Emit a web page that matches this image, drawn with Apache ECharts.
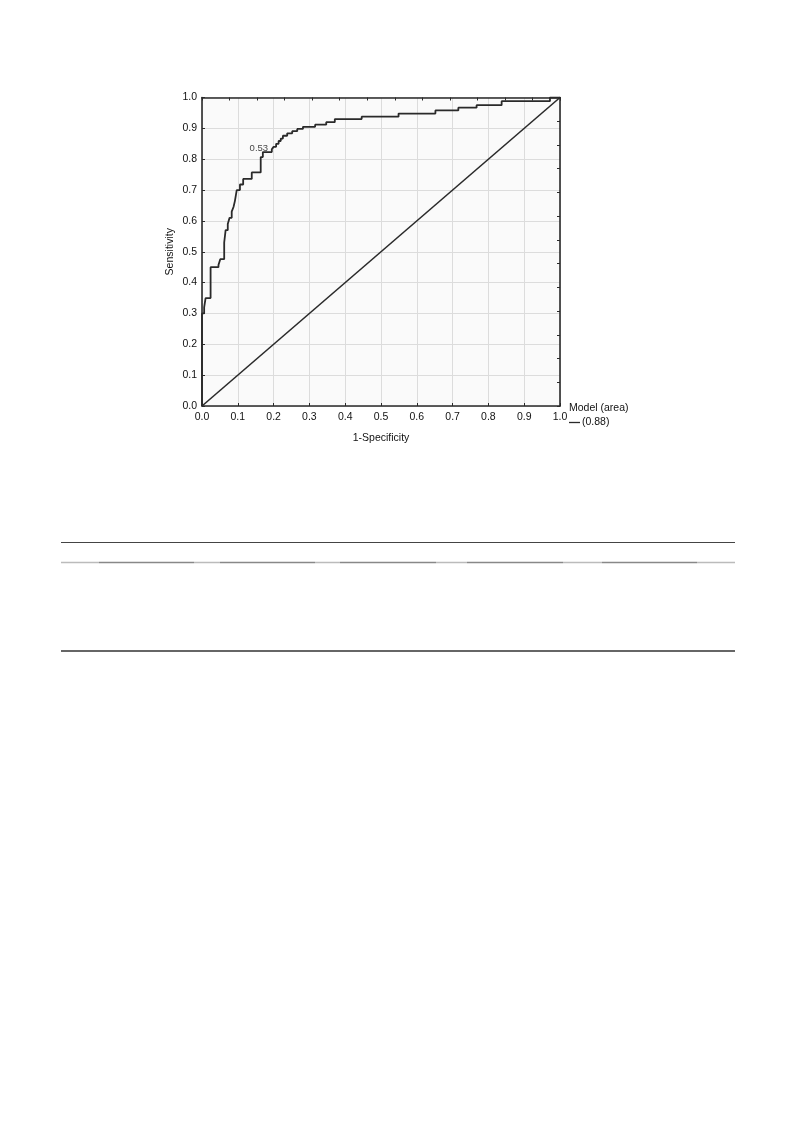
<!DOCTYPE html>
<html>
<head>
<meta charset="utf-8">
<script src="https://cdn.jsdelivr.net/npm/echarts@6/dist/echarts.min.js"></script>
<style>
html,body{margin:0;padding:0;background:#fff;}
#chart{width:793px;height:1121px;}
</style>
</head>
<body>
<div id="chart"></div>
<script>
// ROC curve vertices (1-Specificity, Sensitivity)
const fpr = [0, 0, 0.006, 0.010, 0.024, 0.046, 0.051, 0.062, 0.066, 0.072, 0.077, 0.083, 0.088, 0.092, 0.097, 0.106, 0.115, 0.139, 0.164, 0.170, 0.195, 0.200, 0.207, 0.214, 0.220, 0.226, 0.238, 0.252, 0.266, 0.282, 0.316, 0.347, 0.371, 0.446, 0.549, 0.652, 0.716, 0.767, 0.837, 0.972, 1.0];
const tpr = [0, 0.300, 0.320, 0.350, 0.450, 0.457, 0.476, 0.530, 0.570, 0.590, 0.610, 0.630, 0.645, 0.665, 0.700, 0.718, 0.736, 0.757, 0.807, 0.823, 0.832, 0.840, 0.850, 0.859, 0.867, 0.876, 0.884, 0.891, 0.898, 0.905, 0.912, 0.920, 0.930, 0.938, 0.948, 0.958, 0.967, 0.975, 0.988, 1.0, 1.0];
const diagX = [0, 1];
const diagY = [0, 1];
const cutoffPoint = [0.170, 0.823];
const cutoffLabel = '0.53';
const modelName = '(0.88)';
const legendTitle = 'Model (area)';
const xTitle = '1-Specificity';
const yTitle = 'Sensitivity';

const font = 'Liberation Sans, Arial, sans-serif';
const axisColor = '#2a2a2a';
const textColor = '#111';

const chart = echarts.init(document.getElementById('chart'), null, {renderer: 'canvas'});

const rocData = fpr.map((x, i) => [x, tpr[i]]);
const diagData = diagX.map((x, i) => [x, diagY[i]]);

const grid = {left: 202, top: 97.5, width: 358, height: 308.5, show: true, backgroundColor: '#fafafa', borderWidth: 0};

const labelStyle = {color: textColor, fontSize: 10.5, fontFamily: font};

chart.setOption({
  animation: false,
  backgroundColor: '#fff',
  grid: grid,
  xAxis: [{
    type: 'value', min: 0, max: 1, interval: 0.1, position: 'bottom',
    axisLine: {show: true, onZero: false, lineStyle: {color: axisColor, width: 1.6}},
    axisTick: {show: true, inside: true, length: 3, lineStyle: {color: axisColor}},
    axisLabel: Object.assign({margin: 6, formatter: v => v.toFixed(1)}, labelStyle),
    splitLine: {show: true, lineStyle: {color: '#dcdcdc', width: 1}},
    name: xTitle, nameLocation: 'middle', nameGap: 27,
    nameTextStyle: {color: textColor, fontSize: 10.5, fontFamily: font}
  }, {
    type: 'value', min: 0, max: 1, interval: 1 / 13, position: 'top',
    axisLine: {show: true, onZero: false, lineStyle: {color: axisColor, width: 1.6}},
    axisTick: {show: true, inside: true, length: 3, lineStyle: {color: axisColor}},
    axisLabel: {show: false}, splitLine: {show: false}
  }],
  yAxis: [{
    type: 'value', min: 0, max: 1, interval: 0.1, position: 'left',
    axisLine: {show: true, onZero: false, lineStyle: {color: axisColor, width: 1.6}},
    axisTick: {show: true, inside: true, length: 3, lineStyle: {color: axisColor}},
    axisLabel: Object.assign({margin: 5, formatter: v => v.toFixed(1)}, labelStyle),
    splitLine: {show: true, lineStyle: {color: '#dcdcdc', width: 1}},
    name: yTitle, nameLocation: 'middle', nameGap: 26, nameRotate: 90,
    nameTextStyle: {color: textColor, fontSize: 10.5, fontFamily: font}
  }, {
    type: 'value', min: 0, max: 1, interval: 1 / 13, position: 'right',
    axisLine: {show: true, onZero: false, lineStyle: {color: axisColor, width: 1.6}},
    axisTick: {show: true, inside: true, length: 3, lineStyle: {color: axisColor}},
    axisLabel: {show: false}, splitLine: {show: false}
  }],
  legend: {
    data: [{name: modelName, icon: 'rect'}],
    left: 569, top: 417,
    itemWidth: 11, itemHeight: 1.3, itemGap: 4,
    textStyle: {color: textColor, fontSize: 10.5, fontFamily: font, padding: [0, 0, 0, -3]},
    padding: 0
  },
  series: [{
    name: modelName,
    type: 'line', data: rocData, step: 'end',
    symbol: 'none', showSymbol: false,
    lineStyle: {color: '#2a2a2a', width: 1.8},
    itemStyle: {color: '#2a2a2a'},
    z: 3
  }, {
    name: 'diagonal',
    type: 'line', data: diagData,
    symbol: 'none', showSymbol: false,
    lineStyle: {color: '#2a2a2a', width: 1.6},
    z: 2
  }, {
    name: 'cutoff',
    type: 'scatter', data: [cutoffPoint], symbolSize: 1,
    itemStyle: {color: 'rgba(0,0,0,0)'},
    label: {show: true, formatter: cutoffLabel, position: 'top', distance: 0, offset: [-4, 2],
      color: textColor, fontSize: 9.5, fontFamily: font},
    z: 4
  }],
  graphic: [
    {type: 'text', left: 569, top: 403, style: {text: legendTitle, fill: textColor, font: '10.5px ' + font}},
    {type: 'line', shape: {x1: 61, y1: 542.5, x2: 735, y2: 542.5}, style: {stroke: '#444', lineWidth: 1}},
    // middle rule segments
    {type: 'line', shape: {x1: 61, y1: 562.5, x2: 99, y2: 562.5}, style: {stroke: '#bbb', lineWidth: 1.5}},
    {type: 'line', shape: {x1: 99, y1: 562.5, x2: 194, y2: 562.5}, style: {stroke: '#888', lineWidth: 1.5}},
    {type: 'line', shape: {x1: 194, y1: 562.5, x2: 220, y2: 562.5}, style: {stroke: '#bbb', lineWidth: 1.5}},
    {type: 'line', shape: {x1: 220, y1: 562.5, x2: 315, y2: 562.5}, style: {stroke: '#888', lineWidth: 1.5}},
    {type: 'line', shape: {x1: 315, y1: 562.5, x2: 340, y2: 562.5}, style: {stroke: '#bbb', lineWidth: 1.5}},
    {type: 'line', shape: {x1: 340, y1: 562.5, x2: 436, y2: 562.5}, style: {stroke: '#888', lineWidth: 1.5}},
    {type: 'line', shape: {x1: 436, y1: 562.5, x2: 467, y2: 562.5}, style: {stroke: '#bbb', lineWidth: 1.5}},
    {type: 'line', shape: {x1: 467, y1: 562.5, x2: 563, y2: 562.5}, style: {stroke: '#888', lineWidth: 1.5}},
    {type: 'line', shape: {x1: 563, y1: 562.5, x2: 602, y2: 562.5}, style: {stroke: '#bbb', lineWidth: 1.5}},
    {type: 'line', shape: {x1: 602, y1: 562.5, x2: 697, y2: 562.5}, style: {stroke: '#888', lineWidth: 1.5}},
    {type: 'line', shape: {x1: 697, y1: 562.5, x2: 735, y2: 562.5}, style: {stroke: '#bbb', lineWidth: 1.5}},
    // bottom rule
    {type: 'line', shape: {x1: 61, y1: 651, x2: 735, y2: 651}, style: {stroke: '#333', lineWidth: 1.5}}
  ]
});
</script>
</body>
</html>
